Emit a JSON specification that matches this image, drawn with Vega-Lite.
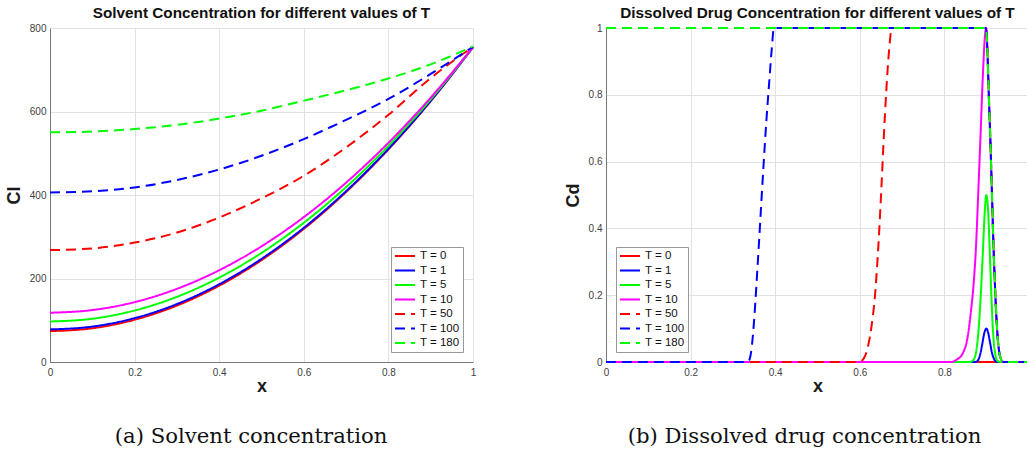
{
  "$schema": "https://vega.github.io/schema/vega-lite/v6.json",
  "background": "white",
  "padding": {"left": 5, "top": 5, "right": 0, "bottom": 0},
  "spacing": 87,
  "datasets": {
    "cl": [
      {"x": 0, "v": 74, "T": "T = 0"}, {"x": 0.1, "v": 80.8, "T": "T = 0"}, {"x": 0.2, "v": 101.2, "T": "T = 0"}, {"x": 0.3, "v": 135.2, "T": "T = 0"}, {"x": 0.4, "v": 182.8, "T": "T = 0"}, {"x": 0.5, "v": 244, "T": "T = 0"}, {"x": 0.6, "v": 318.8, "T": "T = 0"}, {"x": 0.7, "v": 407.2, "T": "T = 0"}, {"x": 0.8, "v": 509.2, "T": "T = 0"}, {"x": 0.9, "v": 624.8, "T": "T = 0"}, {"x": 1, "v": 754, "T": "T = 0"},
      {"x": 0, "v": 78, "T": "T = 1"}, {"x": 0.1, "v": 84.8, "T": "T = 1"}, {"x": 0.2, "v": 105, "T": "T = 1"}, {"x": 0.3, "v": 138.8, "T": "T = 1"}, {"x": 0.4, "v": 186.2, "T": "T = 1"}, {"x": 0.5, "v": 247, "T": "T = 1"}, {"x": 0.6, "v": 321.4, "T": "T = 1"}, {"x": 0.7, "v": 409.2, "T": "T = 1"}, {"x": 0.8, "v": 510.6, "T": "T = 1"}, {"x": 0.9, "v": 625.6, "T": "T = 1"}, {"x": 1, "v": 754, "T": "T = 1"},
      {"x": 0, "v": 97, "T": "T = 5"}, {"x": 0.1, "v": 103.6, "T": "T = 5"}, {"x": 0.2, "v": 123.3, "T": "T = 5"}, {"x": 0.3, "v": 156.1, "T": "T = 5"}, {"x": 0.4, "v": 202.1, "T": "T = 5"}, {"x": 0.5, "v": 261.3, "T": "T = 5"}, {"x": 0.6, "v": 333.5, "T": "T = 5"}, {"x": 0.7, "v": 418.9, "T": "T = 5"}, {"x": 0.8, "v": 517.5, "T": "T = 5"}, {"x": 0.9, "v": 629.2, "T": "T = 5"}, {"x": 1, "v": 754, "T": "T = 5"},
      {"x": 0, "v": 118, "T": "T = 10"}, {"x": 0.1, "v": 124.4, "T": "T = 10"}, {"x": 0.2, "v": 143.4, "T": "T = 10"}, {"x": 0.3, "v": 175.2, "T": "T = 10"}, {"x": 0.4, "v": 219.8, "T": "T = 10"}, {"x": 0.5, "v": 277, "T": "T = 10"}, {"x": 0.6, "v": 347, "T": "T = 10"}, {"x": 0.7, "v": 429.6, "T": "T = 10"}, {"x": 0.8, "v": 525, "T": "T = 10"}, {"x": 0.9, "v": 633.2, "T": "T = 10"}, {"x": 1, "v": 754, "T": "T = 10"},
      {"x": 0, "v": 268, "T": "T = 50"}, {"x": 0.1, "v": 272, "T": "T = 50"}, {"x": 0.2, "v": 286, "T": "T = 50"}, {"x": 0.3, "v": 310, "T": "T = 50"}, {"x": 0.4, "v": 346, "T": "T = 50"}, {"x": 0.5, "v": 392, "T": "T = 50"}, {"x": 0.6, "v": 446, "T": "T = 50"}, {"x": 0.7, "v": 514, "T": "T = 50"}, {"x": 0.8, "v": 592, "T": "T = 50"}, {"x": 0.9, "v": 680, "T": "T = 50"}, {"x": 1, "v": 755, "T": "T = 50"},
      {"x": 0, "v": 406, "T": "T = 100"}, {"x": 0.1, "v": 409, "T": "T = 100"}, {"x": 0.2, "v": 418, "T": "T = 100"}, {"x": 0.3, "v": 436, "T": "T = 100"}, {"x": 0.4, "v": 461, "T": "T = 100"}, {"x": 0.5, "v": 494, "T": "T = 100"}, {"x": 0.6, "v": 534, "T": "T = 100"}, {"x": 0.7, "v": 580, "T": "T = 100"}, {"x": 0.8, "v": 630, "T": "T = 100"}, {"x": 0.9, "v": 690, "T": "T = 100"}, {"x": 1, "v": 755, "T": "T = 100"},
      {"x": 0, "v": 550, "T": "T = 180"}, {"x": 0.1, "v": 552, "T": "T = 180"}, {"x": 0.2, "v": 558, "T": "T = 180"}, {"x": 0.3, "v": 568, "T": "T = 180"}, {"x": 0.4, "v": 583, "T": "T = 180"}, {"x": 0.5, "v": 602, "T": "T = 180"}, {"x": 0.6, "v": 626, "T": "T = 180"}, {"x": 0.7, "v": 651, "T": "T = 180"}, {"x": 0.8, "v": 679, "T": "T = 180"}, {"x": 0.9, "v": 713, "T": "T = 180"}, {"x": 1, "v": 756, "T": "T = 180"}
    ],
    "cd": [
      {"x": 0, "v": 0, "T": "T = 0"}, {"x": 1, "v": 0, "T": "T = 0"},
      {"x": 0, "v": 0, "T": "T = 1"}, {"x": 0.87, "v": 0, "T": "T = 1"}, {"x": 0.878, "v": 0.003, "T": "T = 1"}, {"x": 0.884, "v": 0.02, "T": "T = 1"}, {"x": 0.889, "v": 0.05, "T": "T = 1"}, {"x": 0.894, "v": 0.085, "T": "T = 1"}, {"x": 0.899, "v": 0.1, "T": "T = 1"}, {"x": 0.903, "v": 0.09, "T": "T = 1"}, {"x": 0.907, "v": 0.065, "T": "T = 1"}, {"x": 0.912, "v": 0.03, "T": "T = 1"}, {"x": 0.917, "v": 0.01, "T": "T = 1"}, {"x": 0.923, "v": 0.001, "T": "T = 1"}, {"x": 0.93, "v": 0, "T": "T = 1"}, {"x": 1, "v": 0, "T": "T = 1"},
      {"x": 0, "v": 0, "T": "T = 5"}, {"x": 0.86, "v": 0, "T": "T = 5"}, {"x": 0.868, "v": 0.005, "T": "T = 5"}, {"x": 0.875, "v": 0.03, "T": "T = 5"}, {"x": 0.881, "v": 0.1, "T": "T = 5"}, {"x": 0.886, "v": 0.2, "T": "T = 5"}, {"x": 0.891, "v": 0.33, "T": "T = 5"}, {"x": 0.895, "v": 0.44, "T": "T = 5"}, {"x": 0.899, "v": 0.5, "T": "T = 5"}, {"x": 0.903, "v": 0.46, "T": "T = 5"}, {"x": 0.907, "v": 0.34, "T": "T = 5"}, {"x": 0.911, "v": 0.2, "T": "T = 5"}, {"x": 0.915, "v": 0.09, "T": "T = 5"}, {"x": 0.92, "v": 0.025, "T": "T = 5"}, {"x": 0.926, "v": 0.003, "T": "T = 5"}, {"x": 0.932, "v": 0, "T": "T = 5"}, {"x": 1, "v": 0, "T": "T = 5"},
      {"x": 0, "v": 0, "T": "T = 10"}, {"x": 0.815, "v": 0, "T": "T = 10"}, {"x": 0.83, "v": 0.008, "T": "T = 10"}, {"x": 0.843, "v": 0.025, "T": "T = 10"}, {"x": 0.855, "v": 0.075, "T": "T = 10"}, {"x": 0.863, "v": 0.155, "T": "T = 10"}, {"x": 0.8685, "v": 0.225, "T": "T = 10"}, {"x": 0.8747, "v": 0.345, "T": "T = 10"}, {"x": 0.88, "v": 0.505, "T": "T = 10"}, {"x": 0.885, "v": 0.665, "T": "T = 10"}, {"x": 0.8905, "v": 0.845, "T": "T = 10"}, {"x": 0.8965, "v": 0.985, "T": "T = 10"}, {"x": 0.899, "v": 1, "T": "T = 10"}, {"x": 0.902, "v": 0.92, "T": "T = 10"}, {"x": 0.905, "v": 0.8, "T": "T = 10"}, {"x": 0.909, "v": 0.65, "T": "T = 10"}, {"x": 0.9125, "v": 0.5, "T": "T = 10"}, {"x": 0.916, "v": 0.35, "T": "T = 10"}, {"x": 0.9205, "v": 0.2, "T": "T = 10"}, {"x": 0.925, "v": 0.09, "T": "T = 10"}, {"x": 0.929, "v": 0.035, "T": "T = 10"}, {"x": 0.934, "v": 0.008, "T": "T = 10"}, {"x": 0.94, "v": 0, "T": "T = 10"}, {"x": 1, "v": 0, "T": "T = 10"},
      {"x": 0, "v": 0, "T": "T = 50"}, {"x": 0.6, "v": 0, "T": "T = 50"}, {"x": 0.606, "v": 0.005, "T": "T = 50"}, {"x": 0.613, "v": 0.02, "T": "T = 50"}, {"x": 0.62, "v": 0.05, "T": "T = 50"}, {"x": 0.628, "v": 0.11, "T": "T = 50"}, {"x": 0.636, "v": 0.2, "T": "T = 50"}, {"x": 0.644, "v": 0.35, "T": "T = 50"}, {"x": 0.651, "v": 0.52, "T": "T = 50"}, {"x": 0.657, "v": 0.68, "T": "T = 50"}, {"x": 0.663, "v": 0.82, "T": "T = 50"}, {"x": 0.669, "v": 0.93, "T": "T = 50"}, {"x": 0.676, "v": 1, "T": "T = 50"}, {"x": 0.898, "v": 1, "T": "T = 50"}, {"x": 0.902, "v": 0.92, "T": "T = 50"}, {"x": 0.905, "v": 0.8, "T": "T = 50"}, {"x": 0.909, "v": 0.65, "T": "T = 50"}, {"x": 0.9125, "v": 0.5, "T": "T = 50"}, {"x": 0.916, "v": 0.35, "T": "T = 50"}, {"x": 0.9205, "v": 0.2, "T": "T = 50"}, {"x": 0.925, "v": 0.09, "T": "T = 50"}, {"x": 0.929, "v": 0.035, "T": "T = 50"}, {"x": 0.934, "v": 0.008, "T": "T = 50"}, {"x": 0.94, "v": 0, "T": "T = 50"}, {"x": 1, "v": 0, "T": "T = 50"},
      {"x": 0, "v": 0, "T": "T = 100"}, {"x": 0.335, "v": 0, "T": "T = 100"}, {"x": 0.34, "v": 0.01, "T": "T = 100"}, {"x": 0.345, "v": 0.05, "T": "T = 100"}, {"x": 0.351, "v": 0.14, "T": "T = 100"}, {"x": 0.358, "v": 0.28, "T": "T = 100"}, {"x": 0.365, "v": 0.43, "T": "T = 100"}, {"x": 0.372, "v": 0.58, "T": "T = 100"}, {"x": 0.379, "v": 0.72, "T": "T = 100"}, {"x": 0.386, "v": 0.84, "T": "T = 100"}, {"x": 0.392, "v": 0.94, "T": "T = 100"}, {"x": 0.397, "v": 1, "T": "T = 100"}, {"x": 0.898, "v": 1, "T": "T = 100"}, {"x": 0.902, "v": 0.92, "T": "T = 100"}, {"x": 0.905, "v": 0.8, "T": "T = 100"}, {"x": 0.909, "v": 0.65, "T": "T = 100"}, {"x": 0.9125, "v": 0.5, "T": "T = 100"}, {"x": 0.916, "v": 0.35, "T": "T = 100"}, {"x": 0.9205, "v": 0.2, "T": "T = 100"}, {"x": 0.925, "v": 0.09, "T": "T = 100"}, {"x": 0.929, "v": 0.035, "T": "T = 100"}, {"x": 0.934, "v": 0.008, "T": "T = 100"}, {"x": 0.94, "v": 0, "T": "T = 100"}, {"x": 1, "v": 0, "T": "T = 100"},
      {"x": 0, "v": 1, "T": "T = 180"}, {"x": 0.898, "v": 1, "T": "T = 180"}, {"x": 0.902, "v": 0.92, "T": "T = 180"}, {"x": 0.905, "v": 0.8, "T": "T = 180"}, {"x": 0.909, "v": 0.65, "T": "T = 180"}, {"x": 0.9125, "v": 0.5, "T": "T = 180"}, {"x": 0.916, "v": 0.35, "T": "T = 180"}, {"x": 0.9205, "v": 0.2, "T": "T = 180"}, {"x": 0.925, "v": 0.09, "T": "T = 180"}, {"x": 0.929, "v": 0.035, "T": "T = 180"}, {"x": 0.934, "v": 0.008, "T": "T = 180"}, {"x": 0.94, "v": 0, "T": "T = 180"}, {"x": 1, "v": 0, "T": "T = 180"}
    ]
  },
  "resolve": {"scale": {"color": "independent", "strokeDash": "independent"}, "legend": {"color": "independent", "strokeDash": "independent"}},
  "hconcat": [
    {
      "title": {"text": "(a) Solvent concentration", "orient": "bottom", "font": "DejaVu Serif", "fontSize": 21.2, "fontWeight": "normal", "color": "#111", "offset": 31, "anchor": "middle", "dx": 10},
      "resolve": {"scale": {"color": "independent", "strokeDash": "independent"}, "legend": {"color": "independent", "strokeDash": "independent"}},
      "vconcat": [
        {
          "title": {"text": "Solvent Concentration for different values of T"},
          "width": 423,
          "height": 334,
          "data": {"name": "cl"},
          "mark": {"type": "line", "strokeWidth": 2, "interpolate": "monotone"},
          "encoding": {
            "x": {"field": "x", "type": "quantitative", "scale": {"domain": [0, 1], "nice": false}, "axis": {"title": "x", "values": [0, 0.2, 0.4, 0.6, 0.8, 1], "format": "~g", "labelPadding": 5, "titlePadding": 0}},
            "y": {"field": "v", "type": "quantitative", "scale": {"domain": [0, 800], "nice": false}, "axis": {"title": "Cl", "values": [0, 200, 400, 600, 800], "format": "d"}},
            "color": {"field": "T", "type": "nominal", "scale": {"domain": ["T = 0", "T = 1", "T = 5", "T = 10", "T = 50", "T = 100", "T = 180"], "range": ["#ff0000", "#0000ff", "#00ff00", "#ff00ff", "#ff0000", "#0000ff", "#00ff00"]}, "legend": {"title": null, "orient": "bottom-right", "offset": 10}},
            "strokeDash": {"field": "T", "type": "nominal", "scale": {"domain": ["T = 0", "T = 1", "T = 5", "T = 10", "T = 50", "T = 100", "T = 180"], "range": [[1, 0], [1, 0], [1, 0], [1, 0], [10, 6], [10, 6], [10, 6]]}, "legend": {"title": null, "orient": "bottom-right", "offset": 10}}
          }
        }
      ]
    },
    {
      "title": {"text": "(b) Dissolved drug concentration", "orient": "bottom", "font": "DejaVu Serif", "fontSize": 21.2, "fontWeight": "normal", "color": "#111", "offset": 31, "anchor": "middle", "dx": 6},
      "resolve": {"scale": {"color": "independent", "strokeDash": "independent"}, "legend": {"color": "independent", "strokeDash": "independent"}},
      "vconcat": [
        {
          "title": {"text": "Dissolved Drug Concentration for different values of T"},
          "width": 423,
          "height": 334,
          "data": {"name": "cd"},
          "mark": {"type": "line", "strokeWidth": 2, "interpolate": "monotone"},
          "encoding": {
            "x": {"field": "x", "type": "quantitative", "scale": {"domain": [0, 1], "nice": false}, "axis": {"title": "x", "values": [0, 0.2, 0.4, 0.6, 0.8, 1], "format": "~g", "labelPadding": 5, "titlePadding": 0}},
            "y": {"field": "v", "type": "quantitative", "scale": {"domain": [0, 1], "nice": false}, "axis": {"title": "Cd", "values": [0, 0.2, 0.4, 0.6, 0.8, 1], "format": "~g"}},
            "color": {"field": "T", "type": "nominal", "scale": {"domain": ["T = 0", "T = 1", "T = 5", "T = 10", "T = 50", "T = 100", "T = 180"], "range": ["#ff0000", "#0000ff", "#00ff00", "#ff00ff", "#ff0000", "#0000ff", "#00ff00"]}, "legend": {"title": null, "orient": "bottom-left", "offset": 10}},
            "strokeDash": {"field": "T", "type": "nominal", "scale": {"domain": ["T = 0", "T = 1", "T = 5", "T = 10", "T = 50", "T = 100", "T = 180"], "range": [[1, 0], [1, 0], [1, 0], [1, 0], [10, 6], [10, 6], [10, 6]]}, "legend": {"title": null, "orient": "bottom-left", "offset": 10}}
          }
        }
      ]
    }
  ],
  "config": {
    "font": "Liberation Sans",
    "view": {"stroke": null},
    "axis": {"grid": true, "gridColor": "#e2e2e2", "domainColor": "#777", "labelColor": "#404040", "labelFontSize": 10, "labelFont": "Liberation Sans", "labelFlush": false, "ticks": false, "labelPadding": 4, "titleFont": "Liberation Sans", "titleFontWeight": "bold", "titleFontSize": 18, "titleColor": "#1a1a1a", "titlePadding": 6},
    "title": {"font": "Liberation Sans", "fontSize": 15.3, "fontWeight": "bold", "color": "#111", "offset": 2, "anchor": "middle"},
    "legend": {"strokeColor": "#999", "fillColor": "white", "padding": 3, "symbolType": "M-1,0H3", "symbolSize": 100, "symbolStrokeWidth": 2, "labelFontSize": 11.5, "labelFont": "Liberation Sans", "labelColor": "#111", "rowPadding": 2.5, "labelOffset": 14}
  }
}
